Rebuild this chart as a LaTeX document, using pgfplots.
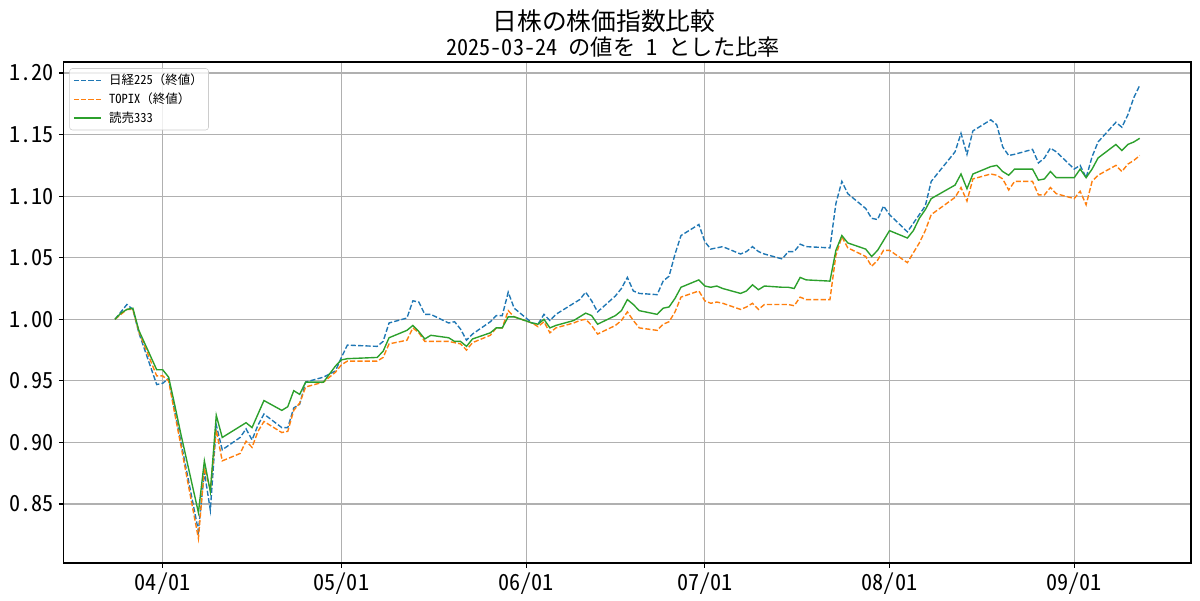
\documentclass[border=0pt]{standalone}
\usepackage{fontspec}
\IfFontExistsTF{Noto Sans Mono CJK JP}{\setmainfont{Noto Sans Mono CJK JP}}{\setmainfont{Noto Sans CJK JP}}
\usepackage{pgfplots}
\pgfplotsset{compat=1.18}
\usepackage{pgfplotstable}
\definecolor{cA}{HTML}{1F77B4}
\definecolor{cB}{HTML}{FF7F0E}
\definecolor{cC}{HTML}{2CA02C}
\definecolor{gridc}{HTML}{B0B0B0}
\definecolor{legc}{HTML}{CCCCCC}

\pgfplotstableread{
d nk tp ym
-8 1.000 1.000 1.000
-7 1.006 1.004 1.005
-6 1.012 1.008 1.008
-5 1.008 1.008 1.009
-4 0.989 0.990 0.991
-1 0.947 0.954 0.959
0 0.948 0.954 0.959
1 0.952 0.950 0.953
2 0.926 0.924 0.931
3 0.902 0.899 0.908
6 0.828 0.822 0.843
7 0.876 0.879 0.885
8 0.845 0.862 0.860
9 0.914 0.910 0.922
10 0.894 0.885 0.904
13 0.904 0.891 0.913
14 0.911 0.901 0.916
15 0.902 0.896 0.912
16 0.914 0.909 0.923
17 0.923 0.917 0.934
20 0.912 0.908 0.926
21 0.912 0.909 0.929
22 0.928 0.926 0.942
23 0.931 0.932 0.939
24 0.949 0.945 0.949
27 0.953 0.949 0.949
29 0.958 0.957 0.962
30 0.969 0.963 0.967
31 0.979 0.966 0.968
36 0.978 0.966 0.969
37 0.982 0.969 0.974
38 0.997 0.980 0.985
41 1.001 0.983 0.991
42 1.015 0.993 0.995
43 1.014 0.989 0.990
44 1.004 0.982 0.984
45 1.004 0.982 0.987
48 0.997 0.982 0.985
49 0.998 0.981 0.982
50 0.992 0.980 0.982
51 0.983 0.975 0.978
52 0.988 0.981 0.984
55 0.998 0.987 0.989
56 1.003 0.993 0.993
57 1.003 0.993 0.993
58 1.022 1.007 1.002
59 1.009 1.002 1.002
62 0.997 0.997 0.997
63 0.996 0.994 0.996
64 1.004 0.998 1.000
65 0.999 0.989 0.993
66 1.004 0.993 0.995
69 1.013 0.997 0.999
70 1.016 0.999 1.002
71 1.022 1.000 1.005
72 1.015 0.995 1.003
73 1.006 0.988 0.996
76 1.019 0.995 1.003
77 1.025 0.999 1.007
78 1.034 1.006 1.016
79 1.023 0.999 1.012
80 1.021 0.993 1.007
83 1.020 0.991 1.004
84 1.031 0.996 1.009
85 1.035 0.998 1.010
86 1.053 1.006 1.017
87 1.068 1.018 1.026
90 1.077 1.023 1.032
91 1.063 1.015 1.027
92 1.057 1.013 1.026
93 1.058 1.014 1.027
94 1.059 1.013 1.025
97 1.053 1.008 1.021
98 1.055 1.010 1.023
99 1.059 1.013 1.028
100 1.055 1.008 1.024
101 1.053 1.012 1.027
104 1.049 1.012 1.026
105 1.055 1.012 1.026
106 1.055 1.011 1.025
107 1.061 1.018 1.034
108 1.059 1.016 1.032
112 1.058 1.016 1.031
113 1.094 1.052 1.056
114 1.112 1.067 1.068
115 1.102 1.058 1.062
118 1.090 1.051 1.057
119 1.082 1.043 1.051
120 1.081 1.048 1.056
121 1.092 1.056 1.064
122 1.085 1.056 1.072
125 1.071 1.046 1.066
126 1.078 1.054 1.072
127 1.085 1.062 1.082
128 1.092 1.072 1.089
129 1.112 1.085 1.098
133 1.136 1.099 1.109
134 1.151 1.107 1.118
135 1.134 1.096 1.106
136 1.153 1.114 1.118
139 1.162 1.118 1.124
140 1.158 1.117 1.125
141 1.140 1.114 1.120
142 1.133 1.105 1.117
143 1.134 1.112 1.122
146 1.138 1.112 1.122
147 1.127 1.101 1.113
148 1.131 1.101 1.114
149 1.139 1.107 1.120
150 1.136 1.102 1.115
153 1.122 1.098 1.115
154 1.125 1.104 1.122
155 1.115 1.093 1.115
156 1.132 1.112 1.122
157 1.144 1.117 1.131
160 1.160 1.125 1.142
161 1.156 1.120 1.137
162 1.166 1.126 1.142
163 1.180 1.129 1.144
164 1.190 1.133 1.147
}\data

\begin{document}
\begin{tikzpicture}
\begin{axis}[
  at={(0pt,0pt)}, anchor=south west,
  scale only axis, width=811.4pt, height=360.7pt,
  xmin=-16.6, xmax=172.6, ymin=0.802, ymax=1.209,
  xtick={0,30,61,91,122,153},
  xticklabels={04/01,05/01,06/01,07/01,08/01,09/01},
  ytick={0.85,0.9,0.95,1,1.05,1.1,1.15,1.2},
  yticklabels={0.85,0.90,0.95,1.00,1.05,1.10,1.15,1.20},
  xtick pos=left, ytick pos=left,
  tick align=outside, major tick length=3.5pt,
  tick style={black, line width=0.8pt},
  axis line style={line width=0.8pt},
  grid=major, grid style={color=gridc, line width=0.8pt},
  ticklabel style={font=\fontsize{16}{19}\selectfont, inner sep=0pt},
  xticklabel shift=3.5pt, yticklabel shift=3.5pt,
  legend cell align=left,
  legend image code/.code={\draw[#1] (0pt,0pt) -- (19.5pt,0pt);},
  legend style={at={(axis description cs:0,1)}, xshift=4pt, yshift=-4.5pt,
    anchor=north west, draw=legc, fill=white, fill opacity=0.8, text opacity=1,
    rounded corners=2pt, font=\fontsize{9}{11}\selectfont,
    inner sep=2.5pt, row sep=1.4pt, column sep=4pt,
    nodes={inner sep=1.5pt}},
]
\addplot[cA, line width=1pt, dash pattern=on 3.7pt off 1.6pt] table[x=d,y=nk]{\data};
\addlegendentry{日経225（終値）}
\addplot[cB, line width=1pt, dash pattern=on 3.7pt off 1.6pt] table[x=d,y=tp]{\data};
\addlegendentry{TOPIX（終値）}
\addplot[cC, line width=1pt] table[x=d,y=ym]{\data};
\addlegendentry{読売333}
\end{axis}
\node[font=\fontsize{17.8}{21}\selectfont, inner sep=0pt] at (388.9pt,390.2pt) {日株の株価指数比較};
\node[font=\fontsize{16}{19}\selectfont, inner sep=0pt] at (395.4pt,371.5pt) {2025-03-24 の値を 1 とした比率};
\pgfresetboundingbox
\path[use as bounding box] (-45.9pt,-26.6pt) rectangle (817.9pt,405.3pt);
\end{tikzpicture}
\end{document}
